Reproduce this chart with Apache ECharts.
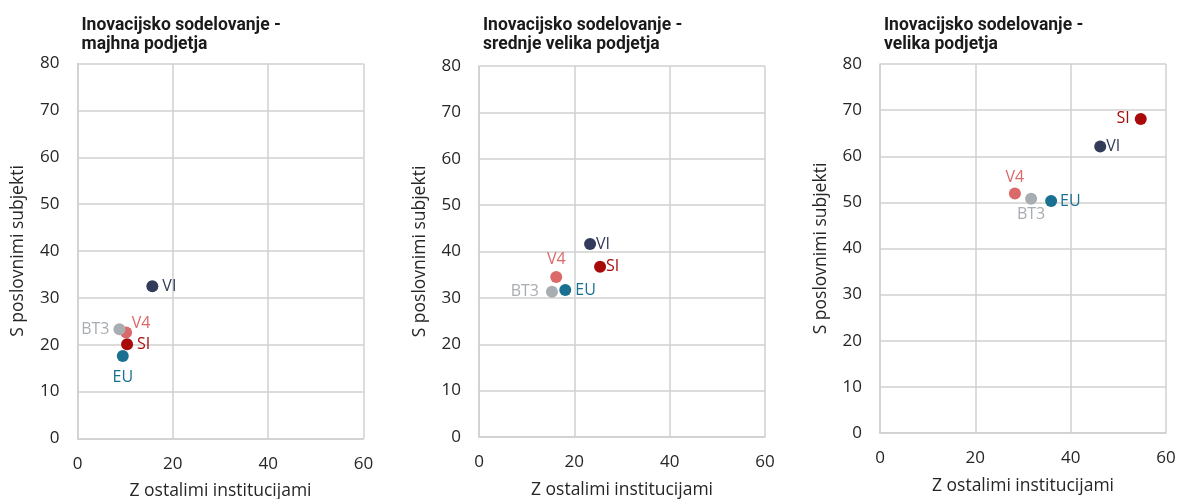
<!DOCTYPE html>
<html>
<head>
<meta charset="utf-8">
<script src="https://cdn.jsdelivr.net/npm/echarts@6/dist/echarts.min.js"></script>
<style>
  html, body { margin: 0; padding: 0; background: #ffffff; }
  #chart { width: 1178px; height: 499px; }
</style>
</head>
<body>
<div id="chart"></div>
<script>
// Groups shown in every panel
const groups = ['SI', 'EU', 'VI', 'V4', 'BT3'];

// Share of firms (%) cooperating with other institutions (x) and with business partners (y)
const smallX  = [10.4, 9.5, 15.7, 10.2, 8.8];
const smallY  = [20.1, 17.6, 32.5, 22.6, 23.3];
const mediumX = [25.4, 18.1, 23.3, 16.2, 15.3];
const mediumY = [36.7, 31.7, 41.6, 34.5, 31.3];
const largeX  = [54.7, 35.9, 46.2, 28.3, 31.7];
const largeY  = [68.1, 50.3, 62.1, 51.9, 50.8];

// Panel titles and axis ticks
const panelTitles = [
  'Inovacijsko sodelovanje -\nmajhna podjetja',
  'Inovacijsko sodelovanje -\nsrednje velika podjetja',
  'Inovacijsko sodelovanje -\nvelika podjetja'
];
const xTicks = [0, 20, 40, 60];
const yTicks = [0, 10, 20, 30, 40, 50, 60, 70, 80];
const xAxisName = 'Z ostalimi institucijami';
const yAxisName = 'S poslovnimi subjekti';

const colors = {
  SI: '#A80A0A',
  EU: '#1A7090',
  VI: '#323C5A',
  V4: '#DB6969',
  BT3: '#A8ADB2'
};

// Label placement per panel: [position, distance, offset]
const panels = [
  { xs: smallX,  ys: smallY,  grid: { left: 77.5, top: 63.5, width: 286, height: 375 },
    lab: { SI: ['right', 4], EU: ['bottom', 7], VI: ['right', 4],
           V4: ['top', 0, [15, 5]], BT3: ['left', 4] } },
  { xs: mediumX, ys: mediumY, grid: { left: 479, top: 66, width: 286, height: 371 },
    lab: { SI: ['right', 0], EU: ['right', 4], VI: ['right', 0],
           V4: ['top', 4], BT3: ['left', 7] } },
  { xs: largeX,  ys: largeY,  grid: { left: 880, top: 64, width: 286, height: 369 },
    lab: { SI: ['left', 5], EU: ['right', 3], VI: ['right', 0],
           V4: ['top', 2], BT3: ['bottom', 2] } }
];

const fontMain = "'Open Sans', 'Noto Sans', sans-serif";
const textColor = '#262626';
const gridColor = '#D0D0D0';

const option = {
  animation: false,
  backgroundColor: '#ffffff',
  title: panels.map((p, i) => ({
    text: panelTitles[i],
    left: p.grid.left - 1,
    top: 11,
    textStyle: {
      fontFamily: "'Liberation Sans Narrow', Roboto, sans-serif",
      fontWeight: 'bold',
      fontSize: 17.5,
      lineHeight: 19,
      color: '#1a1a1a'
    }
  })),
  grid: panels.map(p => Object.assign({ containLabel: false, outerBoundsMode: 'none' }, p.grid)),
  xAxis: panels.map((p, i) => ({
    type: 'value',
    gridIndex: i,
    min: xTicks[0],
    max: xTicks[xTicks.length - 1],
    interval: xTicks[1] - xTicks[0],
    name: xAxisName,
    nameLocation: 'middle',
    nameGap: 44,
    nameTextStyle: { fontFamily: fontMain, fontSize: 17.5, color: textColor },
    axisLine: { show: true, lineStyle: { color: gridColor, width: 1.5 } },
    axisTick: { show: false },
    axisLabel: { fontFamily: fontMain, fontSize: 17, color: textColor, margin: 17 },
    splitLine: { show: true, lineStyle: { color: gridColor, width: 1.5 } }
  })),
  yAxis: panels.map((p, i) => ({
    type: 'value',
    gridIndex: i,
    min: yTicks[0],
    max: yTicks[yTicks.length - 1],
    interval: yTicks[1] - yTicks[0],
    name: yAxisName,
    nameLocation: 'middle',
    nameGap: 50,
    nameTextStyle: { fontFamily: fontMain, fontSize: 17.5, color: textColor },
    axisLine: { show: true, lineStyle: { color: gridColor, width: 1.5 } },
    axisTick: { show: false },
    axisLabel: { fontFamily: fontMain, fontSize: 17, color: textColor, margin: 18 },
    splitLine: { show: true, lineStyle: { color: gridColor, width: 1.5 } }
  })),
  series: panels.map((p, i) => ({
    type: 'scatter',
    xAxisIndex: i,
    yAxisIndex: i,
    symbolSize: 12,
    data: groups.map((g, k) => {
      const l = p.lab[g];
      return {
        name: g,
        value: [p.xs[k], p.ys[k]],
        itemStyle: { color: colors[g], opacity: 1 },
        label: {
          show: true,
          formatter: g,
          position: l[0],
          distance: l[1],
          offset: l[2] || [0, 0],
          fontFamily: fontMain,
          fontSize: 16,
          color: colors[g]
        }
      };
    })
  }))
};

const chart = echarts.init(document.getElementById('chart'), null, { renderer: 'canvas' });
chart.setOption(option);
</script>
</body>
</html>
